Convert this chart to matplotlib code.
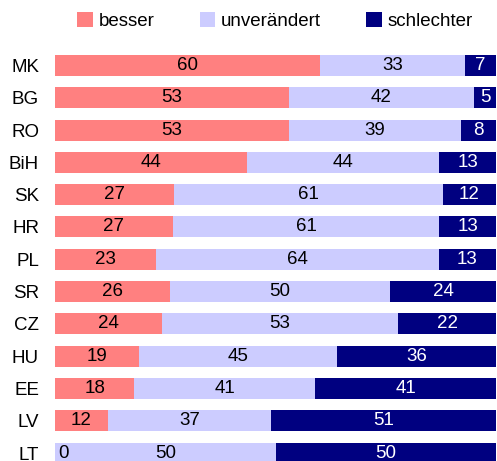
import numpy as np
import matplotlib
matplotlib.use('Agg')
import matplotlib.pyplot as plt
from matplotlib.patches import Patch

plt.rcParams['font.family'] = ['Liberation Sans', 'DejaVu Sans']

countries = ['MK', 'BG', 'RO', 'BiH', 'SK', 'HR', 'PL', 'SR', 'CZ', 'HU', 'EE', 'LV', 'LT']
besser = [60, 53, 53, 44, 27, 27, 23, 26, 24, 19, 18, 12, 0]
unveraendert = [33, 42, 39, 44, 61, 61, 64, 50, 53, 45, 41, 37, 50]
schlechter = [7, 5, 8, 13, 12, 13, 13, 24, 22, 36, 41, 51, 50]

series_names = ['besser', 'unverändert', 'schlechter']
colors = ['#ff8080', '#ccccff', '#000080']
text_colors = ['black', 'black', 'white']
fs = 13.5

data = np.array([besser, unveraendert, schlechter], dtype=float)
totals = data.sum(axis=0)
shares = data / totals

fig = plt.figure(figsize=(4.97, 4.61), dpi=100)
ax = fig.add_axes([55 / 497, 0, 441 / 497, 1 - 55 / 461])

y = np.arange(len(countries))
left = np.zeros(len(countries))
for k in range(3):
    ax.barh(y, shares[k], left=left, height=0.65, color=colors[k], linewidth=0)
    for i in range(len(countries)):
        val = int(data[k, i])
        if val == 0:
            ax.text(left[i] + 0.008, y[i], str(val), ha='left', va='center',
                    fontsize=fs, color=text_colors[k])
        else:
            ax.text(left[i] + shares[k, i] / 2, y[i], str(val), ha='center', va='center',
                    fontsize=fs, color=text_colors[k])
    left += shares[k]

ax.set_xlim(0, 1)
ax.set_ylim(-0.325 + 406 / 32.3, -0.325)
ax.set_yticks(y)
ax.set_yticklabels(countries, fontsize=fs)
ax.tick_params(axis='y', length=0, pad=11.5)
ax.set_xticks([])
for s in ax.spines.values():
    s.set_visible(False)

handles = [Patch(facecolor=c, edgecolor='none') for c in colors]
fig.legend(handles, series_names, loc='center', bbox_to_anchor=(275 / 497, 1 - 21 / 461),
           ncol=3, frameon=False, fontsize=fs, handlelength=0.85, handleheight=0.85,
           handletextpad=0.3, columnspacing=2.4)

fig.savefig('out.png', dpi=100)
